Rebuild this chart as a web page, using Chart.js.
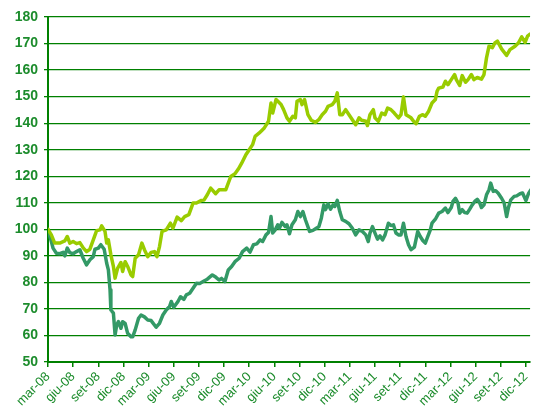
<!DOCTYPE html>
<html>
<head>
<meta charset="utf-8">
<script src="https://cdn.jsdelivr.net/npm/chart.js@4"></script>
<style>
  html, body { margin: 0; padding: 0; background: #fff; }
  #wrap { width: 539px; height: 411px; }
</style>
</head>
<body>
<div id="wrap"><canvas id="chart" width="539" height="411"></canvas></div>
<script>
// months since mar-08, one tick every quarter
const tickLabels = ['mar-08', 'giu-08', 'set-08', 'dic-08', 'mar-09', 'giu-09', 'set-09', 'dic-09',
  'mar-10', 'giu-10', 'set-10', 'dic-10', 'mar-11', 'giu-11', 'set-11', 'dic-11',
  'mar-12', 'giu-12', 'set-12', 'dic-12'];

// light green series
const lightMonths = [0.0, 0.4, 0.8, 1.4, 2.0, 2.3, 2.6, 3.0, 3.4, 3.8, 4.2, 4.6, 5.0, 5.4, 5.8, 6.2, 6.4, 6.8, 7.0, 7.2,
  7.5, 7.8, 8.0, 8.3, 8.7, 8.9, 9.2, 9.5, 9.9, 10.1, 10.4, 10.8, 11.2, 11.5, 11.9, 12.3, 12.7, 13.0, 13.3, 13.6,
  14.1, 14.6, 14.9, 15.4, 15.9, 16.3, 16.8, 17.3, 17.7, 18.3, 18.6, 19.0, 19.4, 20.0, 20.4, 20.8, 21.2, 21.5, 21.8, 22.3,
  22.7, 23.1, 23.6, 24.0, 24.4, 24.7, 25.2, 25.8, 26.3, 26.6, 26.8, 27.2, 27.8, 28.1, 28.5, 28.8, 29.2, 29.5, 29.7, 30.1,
  30.3, 30.6, 31.0, 31.4, 31.9, 32.3, 32.7, 33.1, 33.4, 33.9, 34.2, 34.5, 34.8, 35.1, 35.5, 35.9, 36.3, 36.7, 37.1, 37.4,
  37.9, 38.1, 38.4, 38.8, 39.0, 39.4, 39.8, 40.2, 40.5, 40.9, 41.3, 41.8, 42.1, 42.4, 42.7, 43.0, 43.3, 43.6, 43.9, 44.3,
  44.7, 45.0, 45.4, 45.8, 46.2, 46.4, 46.6, 47.1, 47.4, 47.7, 48.1, 48.5, 48.7, 49.1, 49.4, 49.8, 50.1, 50.5, 50.8, 51.2,
  51.7, 52.0, 52.3, 52.6, 53.0, 53.3, 53.6, 54.1, 54.7, 55.1, 55.7, 56.1, 56.5, 56.9, 57.2, 57.5];
const lightValues = [100, 97.9, 94.8, 94.8, 95.6, 97.3, 94.8, 95.4, 94.6, 95, 93, 91.6, 92.5, 96, 99.5, 99.8, 101.3, 99.2, 94.8, 96,
  90.4, 86, 81.6, 85.3, 87.5, 84.1, 87.8, 86, 82.8, 82.2, 89.1, 90.4, 94.8, 92.3, 89.7, 91.3, 91.6, 89.7, 93.5, 99.2,
  99.8, 102.3, 100.4, 104.6, 103.3, 104.8, 105.5, 109.9, 109.9, 110.9, 111, 113, 115.5, 113.4, 114.9, 114.9, 114.9, 117.4, 119.9, 120.9,
  122.7, 124.9, 128.1, 130, 131.9, 135, 136.3, 138.2, 140.7, 147.6, 143.8, 148.9, 147, 145.1, 142, 140.7, 142.6, 142, 148.2, 148.9,
  147, 148.9, 143.2, 141.1, 140.3, 141.3, 143.2, 144.5, 146.3, 147, 148.2, 151.4, 143.2, 143.2, 145.1, 143.2, 141.3, 139.4, 142, 141.1,
  140.7, 139.1, 143.2, 145.1, 142, 140.7, 143.8, 143.2, 145.7, 145.1, 143.8, 142, 143.2, 149.9, 143.2, 142.6, 142, 140.7, 139.8, 142.6,
  143.2, 142.6, 144.5, 147.6, 148.9, 152, 153.2, 153.6, 155.8, 154.5, 156.4, 158.3, 156.4, 154.2, 157.9, 155.4, 156.4, 158.3, 156.4, 157.2,
  156.6, 158.3, 164.6, 169, 168.4, 170.2, 170.9, 168, 165.5, 167.7, 169, 170.2, 172.5, 170.5, 172.8, 173.6];

// dark green series
const darkMonths = [0.0, 0.4, 0.6, 1.0, 1.4, 1.8, 2.0, 2.3, 2.6, 3.0, 3.4, 3.8, 4.2, 4.6, 5.0, 5.4, 5.6, 6.0, 6.3, 6.7,
  7.0, 7.2, 7.4, 7.5, 7.8, 8.0, 8.2, 8.4, 8.7, 8.9, 9.2, 9.5, 9.9, 10.1, 10.4, 10.8, 11.1, 11.5, 11.9, 12.3,
  12.9, 13.3, 13.7, 14.1, 14.5, 14.7, 15.0, 15.5, 15.8, 16.2, 16.5, 16.9, 17.3, 17.7, 18.1, 18.5, 19.0, 19.6, 20.0, 20.4,
  20.7, 21.1, 21.5, 21.9, 22.3, 22.8, 23.2, 23.7, 24.1, 24.5, 24.9, 25.3, 25.6, 26.0, 26.3, 26.6, 26.8, 27.1, 27.4, 27.6,
  27.9, 28.3, 28.5, 28.8, 29.1, 29.5, 29.8, 30.1, 30.4, 30.7, 31.2, 31.6, 32.0, 32.3, 32.6, 32.9, 33.1, 33.4, 33.7, 34.0,
  34.2, 34.5, 34.8, 35.1, 35.5, 35.9, 36.3, 36.7, 37.1, 37.5, 37.9, 38.2, 38.4, 38.7, 39.0, 39.3, 39.6, 39.9, 40.2, 40.6,
  40.9, 41.2, 41.5, 41.8, 42.1, 42.4, 42.7, 43.0, 43.3, 43.7, 44.1, 44.4, 44.7, 45.0, 45.3, 45.6, 45.8, 46.2, 46.6, 47.0,
  47.4, 47.7, 48.1, 48.3, 48.6, 48.9, 49.1, 49.4, 49.7, 50.0, 50.3, 50.6, 50.9, 51.2, 51.5, 51.7, 52.0, 52.3, 52.6, 52.8,
  53.1, 53.4, 53.7, 54.1, 54.4, 54.7, 54.9, 55.2, 55.6, 55.9, 56.3, 56.6, 57.0, 57.3, 57.6];
const darkValues = [99.8, 95.4, 92.9, 91, 90.8, 91.3, 90, 92.9, 91.2, 90.8, 91.6, 92.3, 89.1, 86.6, 88.5, 89.7, 92.5, 92.9, 94.2, 92.5,
  87.2, 84.7, 77.2, 69.6, 68.4, 60.2, 64, 65.2, 62.7, 65.2, 64.5, 60.8, 59.5, 59.5, 62.1, 66.5, 67.7, 67, 65.8, 65.6,
  63.1, 64.6, 67.7, 69.6, 70.9, 72.8, 70.6, 72.8, 74.6, 73.6, 75.3, 75.9, 77.8, 79.7, 79.6, 80.3, 81.2, 82.8, 82, 80.9,
  81.5, 80.3, 84.7, 86, 87.8, 89.1, 91.6, 92.9, 91.4, 94.2, 94.5, 96, 95.4, 97.9, 98.8, 104.8, 98.6, 99.8, 101.7, 100.4,
  102.6, 101, 101.7, 98.3, 101.7, 103.6, 106.7, 104.8, 106.7, 103.6, 99.2, 99.6, 100.4, 101, 104.2, 109.2, 107.4, 109.6, 107.6, 109.2,
  108.6, 110.9, 106.7, 103.6, 103, 102.1, 100.4, 97.9, 99.8, 99.2, 97.9, 95.4, 98.6, 101, 98.6, 96.3, 97.5, 96, 97.9, 102.3,
  101.4, 101.7, 98.6, 97.9, 97.9, 102.3, 97.3, 94.2, 92.3, 93.3, 99.2, 97.3, 95.8, 94.8, 97.3, 99.8, 102.3, 103.8, 106.1, 106.7,
  108, 106.3, 108.2, 110.5, 111.7, 109.9, 106.1, 107.4, 106.3, 106.1, 107.6, 109.2, 110.5, 111.3, 109.9, 108.2, 109.2, 113, 114.9, 117.4,
  114.3, 114.5, 113.6, 111.7, 110, 104.8, 108, 111.1, 112.4, 112.6, 113.4, 113.7, 110.8, 113.4, 114.9];

const toPoints = (xs, ys) => xs.map((x, i) => ({ x: x, y: ys[i] }));

const axisGreen = '#008000';
const labelGreen = '#1c8c2c';

new Chart(document.getElementById('chart'), {
  type: 'line',
  data: {
    datasets: [
      {
        data: toPoints(lightMonths, lightValues),
        borderColor: '#99cc00',
        borderWidth: 3.5,
        borderJoinStyle: 'round',
        borderCapStyle: 'round',
        pointRadius: 0,
        tension: 0
      },
      {
        data: toPoints(darkMonths, darkValues),
        borderColor: '#339966',
        borderWidth: 3.5,
        borderJoinStyle: 'round',
        borderCapStyle: 'round',
        pointRadius: 0,
        tension: 0
      }
    ]
  },
  options: {
    responsive: false,
    animation: false,
    layout: { padding: { left: 0, right: 7, top: 17, bottom: 0 } },
    plugins: { legend: { display: false }, tooltip: { enabled: false } },
    scales: {
      x: {
        type: 'linear',
        min: 0,
        max: 57.5,
        afterFit: (scale) => { scale.height = 49; },
        afterBuildTicks: (scale) => {
          scale.ticks = tickLabels.map((_, i) => ({ value: i * 3 }));
        },
        ticks: {
          autoSkip: false,
          minRotation: 45,
          maxRotation: 45,
          color: labelGreen,
          padding: 2,
          font: { family: 'Liberation Sans, Arial, sans-serif', size: 13 },
          callback: (value) => tickLabels[Math.round(value / 3)]
        },
        grid: { drawOnChartArea: false, color: axisGreen, tickLength: 5, lineWidth: 1.5 },
        border: { color: axisGreen, width: 2 }
      },
      y: {
        min: 50,
        max: 180,
        afterFit: (scale) => { scale.width = 48; },
        ticks: {
          stepSize: 10,
          color: labelGreen,
          padding: 6,
          font: { family: 'Liberation Sans, Arial, sans-serif', size: 14, weight: 'bold' }
        },
        grid: { color: axisGreen, tickLength: 4, lineWidth: 1.3 },
        border: { color: axisGreen, width: 2 }
      }
    }
  }
});
</script>
</body>
</html>
